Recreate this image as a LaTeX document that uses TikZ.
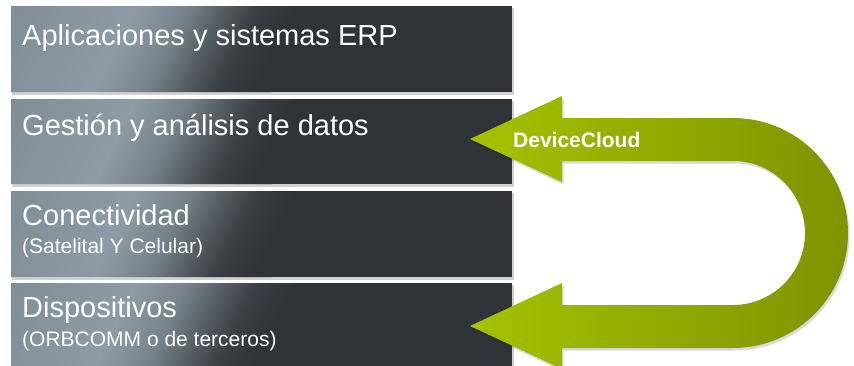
\documentclass[tikz,border=0pt]{standalone}
\usepackage{fontspec}
\setmainfont{Liberation Sans}
\definecolor{gA}{HTML}{808E98}
\definecolor{gB}{HTML}{8C9BA5}
\definecolor{gC}{HTML}{77838B}
\definecolor{gD}{HTML}{525B61}
\definecolor{gF}{HTML}{383E43}
\definecolor{gE}{HTML}{2E3337}
\definecolor{arrL}{HTML}{A6C100}
\definecolor{arrR}{HTML}{7E9300}
\newcommand\drawlayer[3]{%
  \fill[black,opacity=0.18] (12,#2+2) rectangle (513.5,#3+2.5);
  \begin{scope}
    \clip (11,#2) rectangle (512,#3);
    \fill[gE] (11,#2) rectangle (512,#3);
    \pgfmathsetmacro\ymid{(#2+#3)/2}
    \foreach \u in {-40,-37.5,...,290} {
      \ifdim \u pt<115pt
        \pgfmathsetmacro\pct{max(0,min(100,\u/115*100))}
        \colorlet{sc}{gB!\pct!gA}
      \else\ifdim \u pt<165pt
        \pgfmathsetmacro\pct{(\u-115)/50*100}
        \colorlet{sc}{gC!\pct!gB}
      \else\ifdim \u pt<205pt
        \pgfmathsetmacro\pct{(\u-165)/40*100}
        \colorlet{sc}{gD!\pct!gC}
      \else\ifdim \u pt<238pt
        \pgfmathsetmacro\pct{(\u-205)/33*100}
        \colorlet{sc}{gF!\pct!gD}
      \else
        \pgfmathsetmacro\pct{min(100,(\u-238)/35*100)}
        \colorlet{sc}{gE!\pct!gF}
      \fi\fi\fi\fi
      \fill[sc] ({\u+0.5*(\ymid-#2)},#2) -- ({\u+3.2+0.5*(\ymid-#2)},#2) -- ({\u+3.2+0.5*(\ymid-#3)},#3) -- ({\u+0.5*(\ymid-#3)},#3) -- cycle;
    }
  \end{scope}
  \node[name=#1, inner sep=0pt, minimum width=501pt, minimum height=#3pt-#2pt] at (261.5,{(#2+#3)/2}) {};
}
\tikzset{
  mainlbl/.style={anchor=base west, text=white, font=\fontsize{29}{31}\selectfont, inner sep=0pt},
  sublbl/.style={anchor=base west, text=white, font=\fontsize{21}{23}\selectfont, inner sep=0pt},
  arrowlbl/.style={anchor=base west, text=white, font=\fontsize{21}{23}\selectfont\bfseries, inner sep=0pt},
}
\begin{document}
\begin{tikzpicture}[x=1pt,y=-1pt]
  \useasboundingbox (0,0) rectangle (854,365);
  \clip (0,0) rectangle (854,365);
  \drawlayer{b1}{6}{92}
  \drawlayer{b2}{99}{184}
  \drawlayer{b3}{191}{277}
  \drawlayer{b4}{283}{372}
  \node[mainlbl] (t1) at (22,45) {Aplicaciones y sistemas ERP};
  \node[mainlbl] (t2) at (22,135) {Gestión y análisis de datos};
  \node[mainlbl] (t3) at (22,225) {Conectividad};
  \node[sublbl] (s3) at (22,253) {(Satelital Y Celular)};
  \node[mainlbl] (t4) at (22,317) {Dispositivos};
  \node[sublbl] (s4) at (22,346) {(ORBCOMM o de terceros)};
  % U-shaped arrow
  \fill[black,opacity=0.15,shift={(1.5,2.5)}] (470,139) -- (562,96) -- (562,118) -- (733,118) arc[start angle=-90, end angle=90, radius=115] -- (562,348) -- (562,369) -- (470,326) -- (562,283) -- (562,305) -- (733,305) arc[start angle=90, end angle=-90, radius=72] -- (562,161) -- (562,182) -- cycle;
  \shade[left color=arrL, right color=arrR] (470,139) -- (562,96) -- (562,118) -- (733,118) arc[start angle=-90, end angle=90, radius=115] -- (562,348) -- (562,369) -- (470,326) -- (562,283) -- (562,305) -- (733,305) arc[start angle=90, end angle=-90, radius=72] -- (562,161) -- (562,182) -- cycle;
  \node[arrowlbl] (dc) at (513,147) {DeviceCloud};
\end{tikzpicture}
\end{document}
